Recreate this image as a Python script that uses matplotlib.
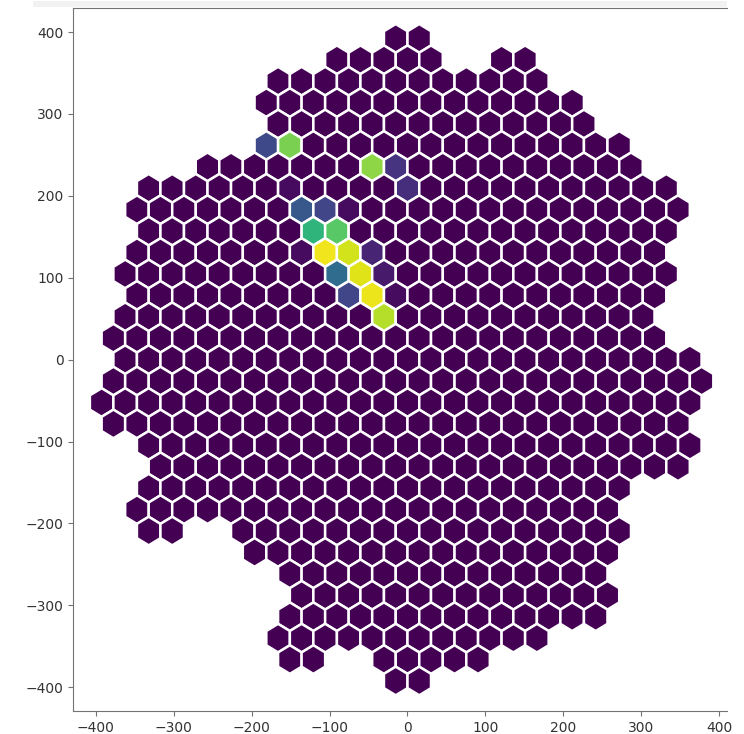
import numpy as np
import matplotlib
matplotlib.use('Agg')
import matplotlib.pyplot as plt
from matplotlib.patches import RegularPolygon, Rectangle
from matplotlib.collections import PatchCollection

pitch = 30.2  # distance between neighbouring pixel centres

# camera rows, top to bottom; each row holds runs (first, last) of column
# indices in units of the pitch (half-integer on odd rows)
row_index = list(range(15, -16, -1))
row_runs = [
    [(-0.5, 0.5)],
    [(-3, 1), (4, 5)],
    [(-5.5, 5.5)],
    [(-6, 7)],
    [(-5.5, 7.5)],
    [(-6, 9)],
    [(-8.5, 9.5)],
    [(-11, 11)],
    [(-11.5, 11.5)],
    [(-11, 11)],
    [(-11.5, 10.5)],
    [(-12, 11)],
    [(-11.5, 10.5)],
    [(-12, 10)],
    [(-12.5, 10.5)],
    [(-12, 12)],
    [(-12.5, 12.5)],
    [(-13, 12)],
    [(-12.5, 11.5)],
    [(-11, 12)],
    [(-10.5, 11.5)],
    [(-11, 9)],
    [(-11.5, 8.5)],
    [(-11, -10), (-7, 9)],
    [(-6.5, 8.5)],
    [(-5, 8)],
    [(-4.5, 8.5)],
    [(-5, 8)],
    [(-5.5, 5.5)],
    [(-5, -4), (-1, 3)],
    [(-0.5, 0.5)],
]

# pixels with signal (row, column, intensity); all the others are 0
hot_row = [10, 10, 9, 9, 8, 8, 7, 7, 7, 6, 6, 5, 5, 5, 5, 4, 4, 4, 3, 3, 3, 2]
hot_col = [-6, -5, -1.5, -0.5, -5, 0, -4.5, -3.5, -2.5, -4, -3,
           -4.5, -3.5, -2.5, -1.5, -3, -2, -1, -2.5, -1.5, -0.5, -1]
hot_val = [0.22, 0.80, 0.83, 0.15, 0.03, 0.13, 0.27, 0.21, 0.03, 0.65, 0.74,
           0.03, 0.98, 0.93, 0.10, 0.35, 0.95, 0.07, 0.21, 0.97, 0.03, 0.89]

# build pixel table
rows, cols = [], []
for k, runs in zip(row_index, row_runs):
    for first, last in runs:
        for u in np.arange(first, last + 0.5, 1.0):
            rows.append(k)
            cols.append(u)
rows = np.array(rows)
cols = np.array(cols)
values = np.zeros(len(rows))
for k, u, v in zip(hot_row, hot_col, hot_val):
    values[(rows == k) & (cols == u)] = v

pix_x = cols * pitch
pix_y = rows * pitch * np.sqrt(3) / 2
radius = pitch / np.sqrt(3)

fig = plt.figure(figsize=(7.44, 7.34), dpi=100)
# light strip of the notebook cell above the plot
fig.patches.append(Rectangle((0.045, 0.9905), 0.932, 0.0085, transform=fig.transFigure,
                             facecolor='#f2f2f2', edgecolor='none'))
ax = fig.add_axes([0.0985, 0.0313, 0.8785, 0.9574])

hexes = [RegularPolygon((x, y), numVertices=6, radius=radius) for x, y in zip(pix_x, pix_y)]
coll = PatchCollection(hexes, cmap='viridis', edgecolor='white', linewidth=1.8)
coll.set_array(values)
coll.set_clim(0, 1)
ax.add_collection(coll)

ax.set_xlim(-429, 410)
ax.set_ylim(-429, 429)
ax.set_xticks(np.arange(-400, 401, 100))
ax.set_yticks(np.arange(-400, 401, 100))
ax.spines['right'].set_visible(False)
for side in ['left', 'bottom', 'top']:
    ax.spines[side].set_color('0.45')
ax.tick_params(colors='0.45', labelcolor='#333333', labelsize=10)

fig.savefig('out.png', dpi=100)
